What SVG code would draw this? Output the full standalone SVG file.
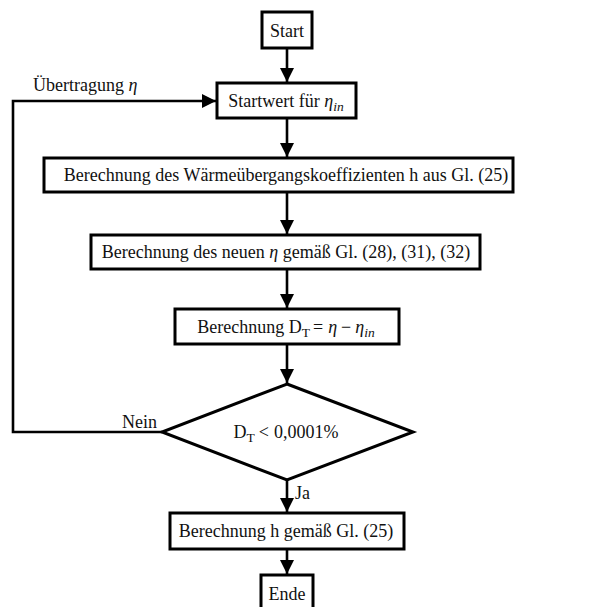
<svg xmlns="http://www.w3.org/2000/svg" width="616" height="607" viewBox="0 0 616 607">
<style>
.box{fill:#fff;stroke:#000;stroke-width:3}
.ln{fill:none;stroke:#000;stroke-width:2.6}
text{font-family:"Liberation Serif","Times New Roman",serif;font-size:18px;fill:#111}
.c{text-anchor:middle}
.m{font-style:italic}
.s{font-size:13.5px}
</style>
<defs>
<marker id="ah" markerUnits="userSpaceOnUse" markerWidth="14" markerHeight="14" viewBox="0 0 12 12" refX="12" refY="6" orient="auto">
<path d="M0,0 L12,6 L0,12 Z" fill="#000"/>
</marker>
</defs>
<g id="connectors">
<line class="ln" x1="287" y1="48" x2="287" y2="82" marker-end="url(#ah)"/>
<line class="ln" x1="287" y1="118" x2="287" y2="157" marker-end="url(#ah)"/>
<line class="ln" x1="287" y1="192" x2="287" y2="234" marker-end="url(#ah)"/>
<line class="ln" x1="287" y1="269" x2="287" y2="308" marker-end="url(#ah)"/>
<line class="ln" x1="287" y1="344" x2="287" y2="383" marker-end="url(#ah)"/>
<line class="ln" x1="287" y1="480" x2="287" y2="512" marker-end="url(#ah)"/>
<line class="ln" x1="287" y1="549" x2="287" y2="574" marker-end="url(#ah)"/>
<polyline class="ln" points="162,432 13,432 13,101 216,101" marker-end="url(#ah)"/>
<text x="33" y="91">Übertragung <tspan class="m">η</tspan></text>
<text x="122" y="428">Nein</text>
<text x="295" y="499">Ja</text>
</g>
<g id="start">
<rect class="box" x="262" y="12" width="50" height="36"/>
<text class="c" x="287" y="37">Start</text>
</g>
<g id="startwert">
<rect class="box" x="217" y="83" width="139" height="35"/>
<text class="c" x="286" y="107">Startwert für <tspan class="m">η</tspan><tspan class="m s" dy="4">in</tspan></text>
</g>
<g id="waerme">
<rect class="box" x="44" y="158" width="469" height="34"/>
<text class="c" x="286" y="181">Berechnung des Wärmeübergangskoeffizienten h aus Gl. (25)</text>
</g>
<g id="eta">
<rect class="box" x="91" y="235" width="389" height="34"/>
<text class="c" x="286" y="258">Berechnung des neuen <tspan class="m">η</tspan> gemäß Gl. (28), (31), (32)</text>
</g>
<g id="dt">
<rect class="box" x="175" y="309" width="224" height="35"/>
<text class="c" x="286" y="333">Berechnung D<tspan class="s" dy="4">T</tspan><tspan dy="-4" dx="3">=</tspan><tspan class="m" dx="5">η</tspan><tspan dx="4">−</tspan><tspan class="m" dx="4">η</tspan><tspan class="m s" dy="4">in</tspan></text>
</g>
<g id="decision">
<polygon class="box" points="287,384 413,432 287,480 162,432"/>
<text class="c" x="286" y="438">D<tspan class="s" dy="4">T</tspan><tspan dy="-4" dx="4">&lt;</tspan><tspan dx="5">0,0001%</tspan></text>
</g>
<g id="hcalc">
<rect class="box" x="170" y="513" width="234" height="36"/>
<text class="c" x="286" y="537">Berechnung h gemäß Gl. (25)</text>
</g>
<g id="ende">
<rect class="box" x="261" y="575" width="52" height="36"/>
<text class="c" x="287" y="600">Ende</text>
</g>
</svg>
